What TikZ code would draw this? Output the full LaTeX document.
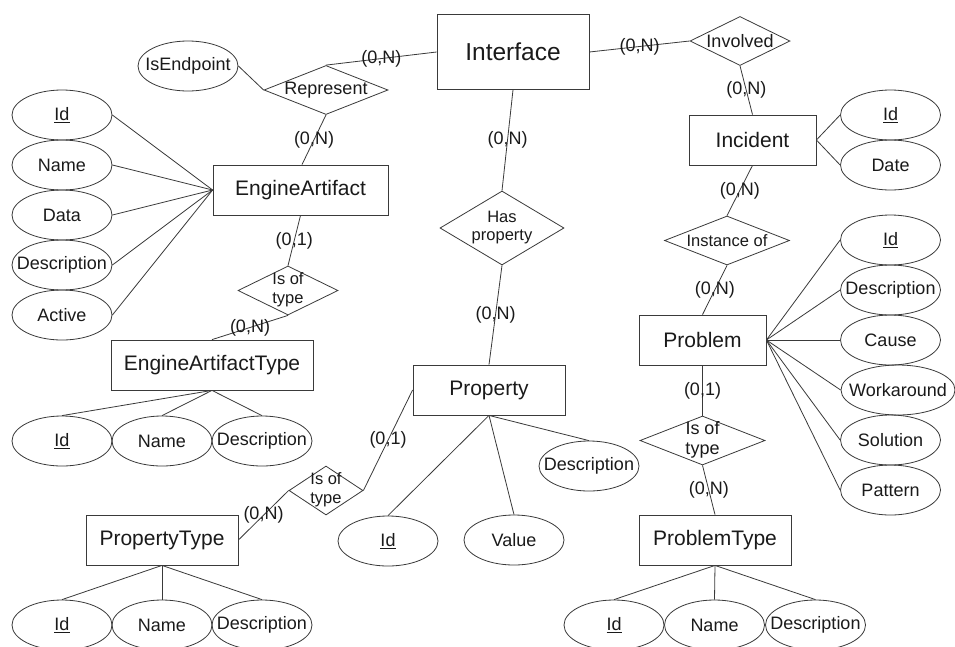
\documentclass[tikz,border=0pt]{standalone}
\usepackage{fontspec}
\setmainfont{Liberation Sans}
\usetikzlibrary{shapes.geometric}
\definecolor{lc}{HTML}{3A3A3A}
\definecolor{tc}{HTML}{1A1A1A}
\newcommand{\zw}[1]{\makebox[0pt]{#1}}
\newcommand{\tl}[2]{\makebox[0pt]{\begin{tabular}{@{}c@{}}#1\\#2\end{tabular}}}
\begin{document}
\begin{tikzpicture}[x=1pt,y=-1pt,
 conn/.style={draw=lc, line width=0.8pt},
 ent/.style={draw=lc, line width=0.8pt, rectangle, minimum height=50pt, inner sep=0pt, font=\fontsize{21}{24}\selectfont, text=tc},
 att/.style={draw=lc, line width=0.8pt, ellipse, minimum width=100pt, minimum height=50pt, inner sep=0pt, font=\fontsize{18}{20}\selectfont, text=tc},
 rel/.style={draw=lc, line width=0.8pt, diamond, aspect=1, inner sep=0pt, font=\fontsize{18}{20}\selectfont, text=tc},
 rels/.style={rel, font=\fontsize{16.5}{18.5}\selectfont},
 card/.style={font=\fontsize{18}{20}\selectfont, text=tc, inner sep=0pt},
]
\useasboundingbox (0,0) rectangle (955,646);
\clip (0,0) rectangle (955,646);
\fill[white] (0,0) rectangle (955,646);

% entities
\node[ent, minimum width=152pt, minimum height=75pt, font=\fontsize{24.5}{28}\selectfont] (iface) at (513,52) {Interface};
\node[ent, minimum width=175pt] (ea) at (300.5,190) {EngineArtifact};
\node[ent, minimum width=127pt] (inc) at (752.5,140) {Incident};
\node[ent, minimum width=127pt] (prob) at (702.5,340) {Problem};
\node[ent, minimum width=152pt] (prop) at (489,390) {Property};
\node[ent, minimum width=202pt] (eat) at (212,365) {EngineArtifactType};
\node[ent, minimum width=152pt] (pt) at (162,540) {PropertyType};
\node[ent, minimum width=152pt] (probt) at (715,540) {ProblemType};

% relationships
\node[rel, minimum width=124pt, minimum height=49pt] (rep) at (326,90) {\zw{Represent}};
\node[rel, minimum width=100pt, minimum height=49pt] (inv) at (740,41) {\zw{Involved}};
\node[rels, minimum width=124pt, minimum height=74pt] (hasp) at (502,228) {\tl{Has}{property}};
\node[rels, minimum width=125pt, minimum height=49pt] (inst) at (727,240.5) {\zw{Instance of}};
\node[rels, minimum width=100pt, minimum height=49pt] (eaisof) at (288,290.5) {\tl{Is of}{type}};
\node[rels, minimum width=74pt, minimum height=49pt] (prisof) at (326,490.5) {\tl{Is of}{type}};
\node[rel, minimum width=125pt, minimum height=49pt] (pbisof) at (702.5,440.5) {\tl{Is of}{type}};

% attributes
\node[att] (isend) at (188,66) {\zw{IsEndpoint}};
\node[att] (eaid) at (62,115) {\zw{\underline{Id}}};
\node[att] (eaname) at (62,165) {\zw{Name}};
\node[att] (eadata) at (62,215) {\zw{Data}};
\node[att] (eadesc) at (62,265) {\zw{Description}};
\node[att] (eaact) at (62,315) {\zw{Active}};

\node[att] (eatid) at (62,441) {\zw{\underline{Id}}};
\node[att] (eatname) at (162,441) {\zw{Name}};
\node[att] (eatdesc) at (262,441) {\zw{Description}};

\node[att] (ptid) at (62,625) {\zw{\underline{Id}}};
\node[att] (ptname) at (162,625) {\zw{Name}};
\node[att] (ptdesc) at (262,625) {\zw{Description}};

\node[att] (prid) at (388,541) {\zw{\underline{Id}}};
\node[att] (prval) at (514,540) {\zw{Value}};
\node[att] (prdesc) at (589,466) {\zw{Description}};

\node[att] (incid) at (890.5,115) {\zw{\underline{Id}}};
\node[att] (incdate) at (890.5,165) {\zw{Date}};

\node[att] (pbid) at (890.5,240) {\zw{\underline{Id}}};
\node[att] (pbdesc) at (890.5,290) {\zw{Description}};
\node[att] (pbcause) at (890.5,340) {\zw{Cause}};
\node[att, minimum width=114pt] (pbwork) at (898,390) {\zw{Workaround}};
\node[att] (pbsol) at (890.5,440) {\zw{Solution}};
\node[att] (pbpat) at (890.5,490) {\zw{Pattern}};

\node[att] (ptyid) at (614,625) {\zw{\underline{Id}}};
\node[att] (ptyname) at (714.5,625) {\zw{Name}};
\node[att] (ptydesc) at (815.5,625) {\zw{Description}};

% relationship connectors with cardinalities
\draw[conn] (iface.west) -- node[card] {(0,N)} (rep.north);
\draw[conn] (isend.east) -- (rep.west);
\draw[conn] (rep.south) -- node[card] {(0,N)} ([xshift=1.5pt]ea.north);
\draw[conn] (ea.south) -- node[card] {(0,1)} (eaisof.north);
\draw[conn] (eaisof.south) -- node[card] {(0,N)} (eat.north);
\draw[conn] (iface.south) -- node[card] {(0,N)} (hasp.north);
\draw[conn] (hasp.south) -- node[card] {(0,N)} (prop.north);
\draw[conn] (prisof.east) -- node[card] {(0,1)} (prop.west);
\draw[conn] (prisof.west) -- node[card] {(0,N)} (pt.east);
\draw[conn] (iface.east) -- node[card] {(0,N)} (inv.west);
\draw[conn] (inv.south) -- node[card] {(0,N)} (inc.north);
\draw[conn] (inc.south) -- node[card] {(0,N)} (inst.north);
\draw[conn] (inst.south) -- node[card] {(0,N)} (prob.north);
\draw[conn] (prob.south) -- node[card] {(0,1)} (pbisof.north);
\draw[conn] (pbisof.south) -- node[card] {(0,N)} (probt.north);

% attribute connectors
\foreach \a in {eaid,eaname,eadata,eadesc,eaact} \draw[conn] (ea.west) -- (\a.east);
\foreach \a in {eatid,eatname,eatdesc} \draw[conn] (eat.south) -- (\a.north);
\foreach \a in {ptid,ptname,ptdesc} \draw[conn] (pt.south) -- (\a.north);
\foreach \a in {prid,prval,prdesc} \draw[conn] (prop.south) -- (\a.north);
\foreach \a in {incid,incdate} \draw[conn] (inc.east) -- (\a.west);
\foreach \a in {pbid,pbdesc,pbcause,pbwork,pbsol,pbpat} \draw[conn] (prob.east) -- (\a.west);
\foreach \a in {ptyid,ptyname,ptydesc} \draw[conn] (probt.south) -- (\a.north);
\end{tikzpicture}
\end{document}
